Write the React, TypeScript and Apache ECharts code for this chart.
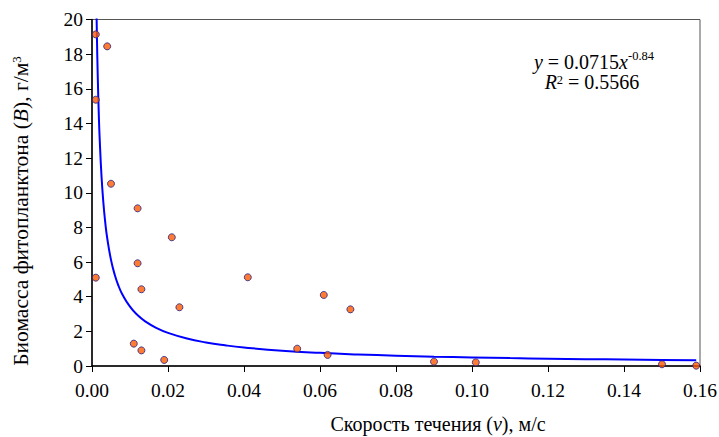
import React, { useEffect, useRef } from "react";
import * as echarts from "echarts";

const velocity = [0.001, 0.004, 0.001, 0.005, 0.012, 0.021, 0.012, 0.001, 0.013, 0.023, 0.041, 0.061, 0.068, 0.011, 0.013, 0.019, 0.054, 0.062, 0.09, 0.101, 0.15, 0.159];
const biomass = [19.14, 18.45, 15.37, 10.52, 9.1, 7.43, 5.93, 5.1, 4.43, 3.39, 5.12, 4.1, 3.27, 1.29, 0.9, 0.35, 1.0, 0.64, 0.25, 0.21, 0.1, 0.02];

const trendA = 0.0715;
const trendB = -0.84;
const trendXs = [0.001, 0.00115, 0.0013, 0.0015, 0.0018, 0.002, 0.0025, 0.003, 0.0035, 0.004, 0.005, 0.006, 0.007, 0.008, 0.01, 0.012, 0.014, 0.017, 0.02, 0.025, 0.03, 0.035, 0.04, 0.05, 0.06, 0.07, 0.08, 0.09, 0.1, 0.11, 0.12, 0.13, 0.14, 0.15, 0.159];

const xTickLabels = ["0.00", "0.02", "0.04", "0.06", "0.08", "0.10", "0.12", "0.14", "0.16"];
const yTickLabels = ["0", "2", "4", "6", "8", "10", "12", "14", "16", "18", "20"];

const FONT = "serif";
const TICK_FS = 19.5;

export default function App() {
  const ref = useRef<HTMLDivElement>(null);
  useEffect(() => {
    if (!ref.current) return;
    const chart = echarts.init(ref.current, null, { renderer: "svg" });
    const points = velocity.map((v, i) => [v, biomass[i]]);
    const trend = trendXs.map((x) => [x, trendA * Math.pow(x, trendB)]);
    chart.setOption({
      animation: false,
      backgroundColor: "#ffffff",
      textStyle: { fontFamily: FONT },
      grid: {
        left: 92,
        right: 19,
        top: 19.5,
        bottom: 71,
        show: true,
        borderColor: "#555555",
        borderWidth: 1,
        backgroundColor: "transparent",
      },
      xAxis: {
        type: "value",
        min: 0,
        max: 0.16,
        interval: 0.02,
        axisLine: { show: true, onZero: false, lineStyle: { color: "#000", width: 1.5 } },
        axisTick: { show: true, inside: false, length: 6, lineStyle: { color: "#000" } },
        splitLine: { show: false },
        axisLabel: { show: false },
      },
      yAxis: {
        type: "value",
        min: 0,
        max: 20,
        interval: 2,
        axisLine: { show: true, onZero: false, lineStyle: { color: "#000", width: 1.5 } },
        axisTick: { show: true, inside: false, length: 6, lineStyle: { color: "#000" } },
        splitLine: { show: false },
        axisLabel: { show: false },
      },
      series: [
        {
          type: "line",
          data: trend,
          smooth: true,
          showSymbol: false,
          clip: true,
          lineStyle: { color: "#0000ff", width: 2 },
          z: 2,
        },
        {
          type: "scatter",
          data: points,
          symbol: "circle",
          symbolSize: 7,
          itemStyle: { color: "#ff5a00", borderColor: "#222288", borderWidth: 1 },
          z: 3,
        },
      ],
    });

    const tickRich = { t: { fontFamily: FONT, fontSize: TICK_FS, fill: "#000" } };
    const tickTexts: any[] = [];
    xTickLabels.forEach((lab) => {
      const p = chart.convertToPixel({ xAxisIndex: 0, yAxisIndex: 0 }, [parseFloat(lab), 0]) as number[];
      tickTexts.push({
        type: "text",
        x: p[0],
        y: p[1] + 24,
        style: { text: "{t|" + lab + "}", rich: tickRich, align: "center", verticalAlign: "middle" },
      });
    });
    yTickLabels.forEach((lab) => {
      const p = chart.convertToPixel({ xAxisIndex: 0, yAxisIndex: 0 }, [0, parseFloat(lab)]) as number[];
      tickTexts.push({
        type: "text",
        x: p[0] - 9,
        y: p[1],
        style: { text: "{t|" + lab + "}", rich: tickRich, align: "right", verticalAlign: "middle" },
      });
    });

    chart.setOption({
      graphic: [
        ...tickTexts,
        {
          type: "text",
          x: 21,
          y: 211,
          rotation: Math.PI / 2,
          style: {
            text: "{n|Биомасса фитопланктона (}{i|B}{n|), г/м}{s|3}",
            align: "center",
            verticalAlign: "middle",
            rich: {
              n: { fontFamily: FONT, fontSize: 21.5, fill: "#000" },
              i: { fontFamily: FONT, fontSize: 21.5, fontStyle: "italic", fill: "#000" },
              s: { fontFamily: FONT, fontSize: 13, fill: "#000", padding: [0, 0, 10, 0] },
            },
          },
        },
        {
          type: "text",
          x: 438,
          y: 424,
          style: {
            text: "{n|Скорость течения (}{i|v}{n|), м/с}",
            align: "center",
            verticalAlign: "middle",
            rich: {
              n: { fontFamily: FONT, fontSize: 20, fill: "#000" },
              i: { fontFamily: FONT, fontSize: 20, fontStyle: "italic", fill: "#000" },
            },
          },
        },
        {
          type: "text",
          x: 594,
          y: 62,
          style: {
            text: "{i|y}{n| = 0.0715}{i|x}{s|-0.84}",
            align: "center",
            verticalAlign: "middle",
            rich: {
              n: { fontFamily: FONT, fontSize: 20, fill: "#000" },
              i: { fontFamily: FONT, fontSize: 20, fontStyle: "italic", fill: "#000" },
              s: { fontFamily: FONT, fontSize: 12.5, fill: "#000", padding: [0, 0, 12, 0] },
            },
          },
        },
        {
          type: "text",
          x: 592,
          y: 82,
          style: {
            text: "{i|R}{s|2}{n| = 0.5566}",
            align: "center",
            verticalAlign: "middle",
            rich: {
              n: { fontFamily: FONT, fontSize: 20, fill: "#000" },
              i: { fontFamily: FONT, fontSize: 20, fontStyle: "italic", fill: "#000" },
              s: { fontFamily: FONT, fontSize: 12.5, fill: "#000", padding: [0, 0, 4, 0] },
            },
          },
        },
      ],
    });
    return () => chart.dispose();
  }, []);
  return <div ref={ref} style={{ width: 719, height: 437, position: "absolute", left: 0, top: 0 }} />;
}
